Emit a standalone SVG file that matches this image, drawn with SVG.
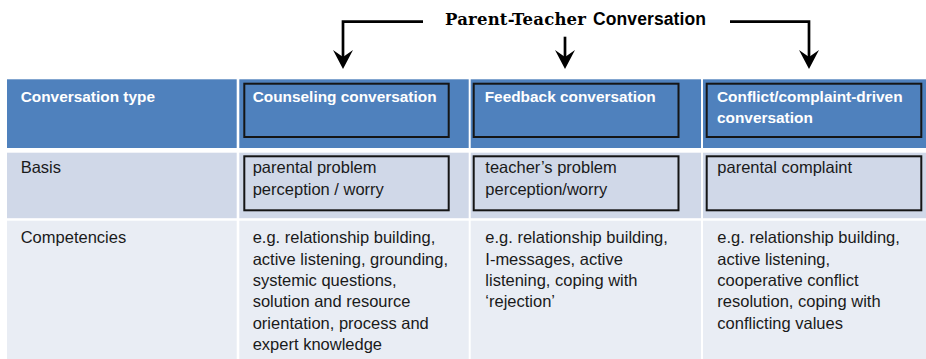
<svg xmlns="http://www.w3.org/2000/svg" width="926" height="359" viewBox="0 0 926 359">
<style>
.hdr{fill:#4F81BD}
.r2{fill:#D0D8E8}
.r3{fill:#E9EDF4}
.box{fill:none;stroke:#151515;stroke-width:2}
.th{font-family:"Liberation Sans",Arial,sans-serif;font-weight:bold;font-size:15.4px;fill:#FFFFFF}
.td{font-family:"Liberation Sans",Arial,sans-serif;font-size:16.5px;fill:#1a1a1a}
.conn{fill:none;stroke:#000;stroke-width:2.7}
.head{fill:#000}
</style>
<rect width="926" height="359" fill="#FFFFFF"/>
<g id="title">
<text x="445" y="25" font-family="DejaVu Serif,'Liberation Serif',serif" font-weight="bold" font-size="16.5px" fill="#000" textLength="141">Parent-Teacher</text>
<text x="593" y="25" font-family="'Liberation Sans',Arial,sans-serif" font-weight="bold" font-size="17.5px" fill="#000" textLength="113">Conversation</text>
</g>
<g id="connectors">
<path class="conn" d="M423,21.7 H343 V58"/>
<path class="head" d="M343,69 L333,50 L343,57 L353,50 Z"/>
<path class="conn" d="M565,36.7 V58"/>
<path class="head" d="M565,69 L555,50 L565,57 L575,50 Z"/>
<path class="conn" d="M730,21.7 H809 V58"/>
<path class="head" d="M809,69 L799,50 L809,57 L819,50 Z"/>
</g>
<g id="row-header">
<rect class="hdr" x="7" y="79.3" width="229.7" height="68.7"/>
<rect class="hdr" x="239.3" y="79.3" width="229.4" height="68.7"/>
<rect class="hdr" x="470.7" y="79.3" width="230.3" height="68.7"/>
<rect class="hdr" x="703" y="79.3" width="223" height="68.7"/>
</g>
<g id="row-basis">
<rect class="r2" x="7" y="152.7" width="229.7" height="65.5"/>
<rect class="r2" x="239.3" y="152.7" width="229.4" height="65.5"/>
<rect class="r2" x="470.7" y="152.7" width="230.3" height="65.5"/>
<rect class="r2" x="703" y="152.7" width="223" height="65.5"/>
</g>
<g id="row-competencies">
<rect class="r3" x="7" y="220.7" width="229.7" height="138.3"/>
<rect class="r3" x="239.3" y="220.7" width="229.4" height="138.3"/>
<rect class="r3" x="470.7" y="220.7" width="230.3" height="138.3"/>
<rect class="r3" x="703" y="220.7" width="223" height="138.3"/>
</g>
<g id="node-conversation-type">
<text class="th" x="20.7" y="101.7">Conversation type</text>
</g>
<g id="node-counseling">
<rect class="box" x="244.3" y="83.7" width="204.4" height="53.3"/>
<text class="th" x="252.7" y="101.7">Counseling conversation</text>
</g>
<g id="node-feedback">
<rect class="box" x="473.7" y="83.7" width="204.8" height="53.3"/>
<text class="th" x="484.7" y="101.7">Feedback conversation</text>
</g>
<g id="node-conflict">
<rect class="box" x="706.7" y="83.7" width="214.6" height="53.3"/>
<text class="th" x="717" y="101.7">Conflict/complaint-driven</text>
<text class="th" x="717" y="123.3">conversation</text>
</g>
<g id="node-basis">
<text class="td" x="20.7" y="173.3">Basis</text>
</g>
<g id="node-basis-counseling">
<rect class="box" x="244.3" y="156.3" width="204.4" height="54"/>
<text class="td" x="252.7" y="173.3">parental problem</text>
<text class="td" x="252.7" y="195">perception / worry</text>
</g>
<g id="node-basis-feedback">
<rect class="box" x="473.7" y="156.3" width="204.8" height="54"/>
<text class="td" x="485.3" y="173.3">teacher’s problem</text>
<text class="td" x="485.3" y="195">perception/worry</text>
</g>
<g id="node-basis-conflict">
<rect class="box" x="706.7" y="156.3" width="214.6" height="54"/>
<text class="td" x="717.3" y="173.3">parental complaint</text>
</g>
<g id="node-competencies">
<text class="td" x="20.7" y="243.3">Competencies</text>
</g>
<g id="node-comp-counseling">
<text class="td" x="252.7" y="243.3">e.g. relationship building,</text>
<text class="td" x="252.7" y="264.6">active listening, grounding,</text>
<text class="td" x="252.7" y="285.9">systemic questions,</text>
<text class="td" x="252.7" y="307.2">solution and resource</text>
<text class="td" x="252.7" y="328.5">orientation, process and</text>
<text class="td" x="252.7" y="349.8">expert knowledge</text>
</g>
<g id="node-comp-feedback">
<text class="td" x="485.3" y="243.3">e.g. relationship building,</text>
<text class="td" x="485.3" y="264.6">I-messages, active</text>
<text class="td" x="485.3" y="285.9">listening, coping with</text>
<text class="td" x="485.3" y="307.2">‘rejection’</text>
</g>
<g id="node-comp-conflict">
<text class="td" x="717.3" y="243.3">e.g. relationship building,</text>
<text class="td" x="717.3" y="264.6">active listening,</text>
<text class="td" x="717.3" y="285.9">cooperative conflict</text>
<text class="td" x="717.3" y="307.2">resolution, coping with</text>
<text class="td" x="717.3" y="328.5">conflicting values</text>
</g>
</svg>
